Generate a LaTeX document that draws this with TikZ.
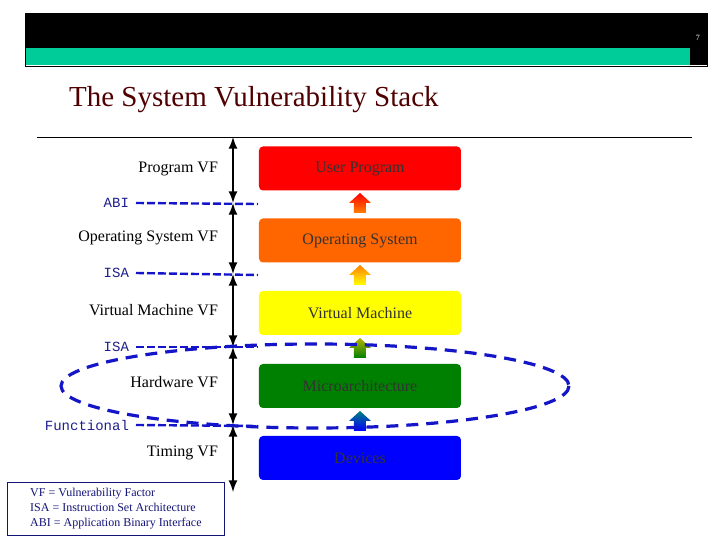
\documentclass[tikz,border=0pt]{standalone}
\usepackage{fontspec}
\setmainfont{Liberation Serif}
\newfontfamily\courfont{Liberation Mono}
\definecolor{dlblue}{RGB}{20,20,200}
\definecolor{ifblue}{RGB}{30,30,140}
\definecolor{legblue}{RGB}{20,20,120}
\definecolor{band}{RGB}{0,204,153}
\definecolor{titred}{RGB}{80,0,0}
\definecolor{cred}{RGB}{255,0,0}
\definecolor{corange}{RGB}{255,102,0}
\definecolor{cyellow}{RGB}{255,255,0}
\definecolor{cgreen}{RGB}{0,128,0}
\definecolor{cblue}{RGB}{0,0,255}
\begin{document}
\begin{tikzpicture}[x=0.5pt,y=-0.5pt,
 lbl/.style={anchor=east,font=\fontsize{8}{9}\selectfont},
 box/.style={rounded corners=2pt,minimum width=101pt,minimum height=22pt,font=\fontsize{8}{9}\selectfont,text=black!80},
 dl/.style={draw=dlblue,line width=1.2pt,dash pattern=on 4pt off 1.5pt},
 if/.style={anchor=east,font=\courfont\fontsize{7}{8}\selectfont,text=ifblue},
 va/.style={<->,>=latex,line width=1pt}]
\useasboundingbox (0,0) rectangle (720,540);
\fill[white] (0,0) rectangle (720,540);
% header
\fill[black] (25,13) rectangle (707,48);
\fill[band] (25,48) rectangle (690,65);
\fill[black] (690,48) rectangle (707,65);
\draw[black] (25,13) rectangle (707,66);
\node[text=white,font=\fontsize{4}{5}\selectfont] (pg) at (698,38) {7};
\node[anchor=west,font=\fontsize{14.5}{16}\selectfont,text=titred] (title) at (62,100) {The System Vulnerability Stack};
\draw (37,137) -- (692,137);
% boxes
\node[box,fill=cred] (up) at (360,168.5) {User Program};
\node[box,fill=corange] (os) at (360,240.5) {Operating System};
\node[box,fill=cyellow] (vm) at (360,313) {Virtual Machine};
\node[box,fill=cgreen] (ma) at (360,386) {Microarchitecture};
\node[box,fill=cblue] (dv) at (360,458) {Devices};
% small arrows
\foreach \y/\ca/\cb in {193/red/orange,265/orange/yellow,338/yellow!70!black/green!50!black,411/teal/blue}{
 \shade[top color=\ca,bottom color=\cb] (354,\y+20) -- (354,\y+10) -- (349,\y+10) -- (360,\y) -- (371,\y+10) -- (366,\y+10) -- (366,\y+20) -- cycle;}
% coordinates on the axis
\coordinate (a0) at (233,137);
\coordinate (a1) at (233,203);
\coordinate (a2) at (233,274);
\coordinate (a3) at (233,347);
\coordinate (a4) at (233,425);
\coordinate (a5) at (233,492);
\draw[va] (a0) -- (a1);
\draw[va] (a1) -- (a2);
\draw[va] (a2) -- (a3);
\draw[va] (a3) -- (a4);
\draw[va] (a4) -- (a5);
% left labels
\node[lbl] (l1) at (225,169) {Program VF};
\node[lbl] (l2) at (225,238) {Operating System VF};
\node[lbl] (l3) at (225,310) {Virtual Machine VF};
\node[lbl] (l4) at (225,382) {Hardware VF};
\node[lbl] (l5) at (225,453) {Timing VF};
% interfaces
\node[if] (abi) at (136,203) {ABI};
\node[if] (isa1) at (136,273) {ISA};
\node[if] (isa2) at (136,347) {ISA};
\node[if] (fun) at (136,425) {Functional};
\coordinate (e1) at (258,204);
\coordinate (e2) at (258,275);
\coordinate (e3) at (258,347);
\coordinate (e4) at (258,426);
\draw[dl] (abi.east) -- (e1);
\draw[dl] (isa1.east) -- (e2);
\draw[dl] (isa2.east) -- (e3);
\draw[dl] (fun.east) -- (e4);
\draw[dl,line width=1.6pt,dash pattern=on 6pt off 4pt] (315,386) ellipse [x radius=254,y radius=42];
% legend
\node[draw=legblue,anchor=north west,align=left,inner sep=2pt,font=\fontsize{6}{7.5}\selectfont,text=legblue,minimum width=108.5pt,minimum height=26.5pt] (leg) at (7,482) {VF = Vulnerability Factor\\ISA = Instruction Set Architecture\\ABI = Application Binary Interface};
\end{tikzpicture}
\end{document}
